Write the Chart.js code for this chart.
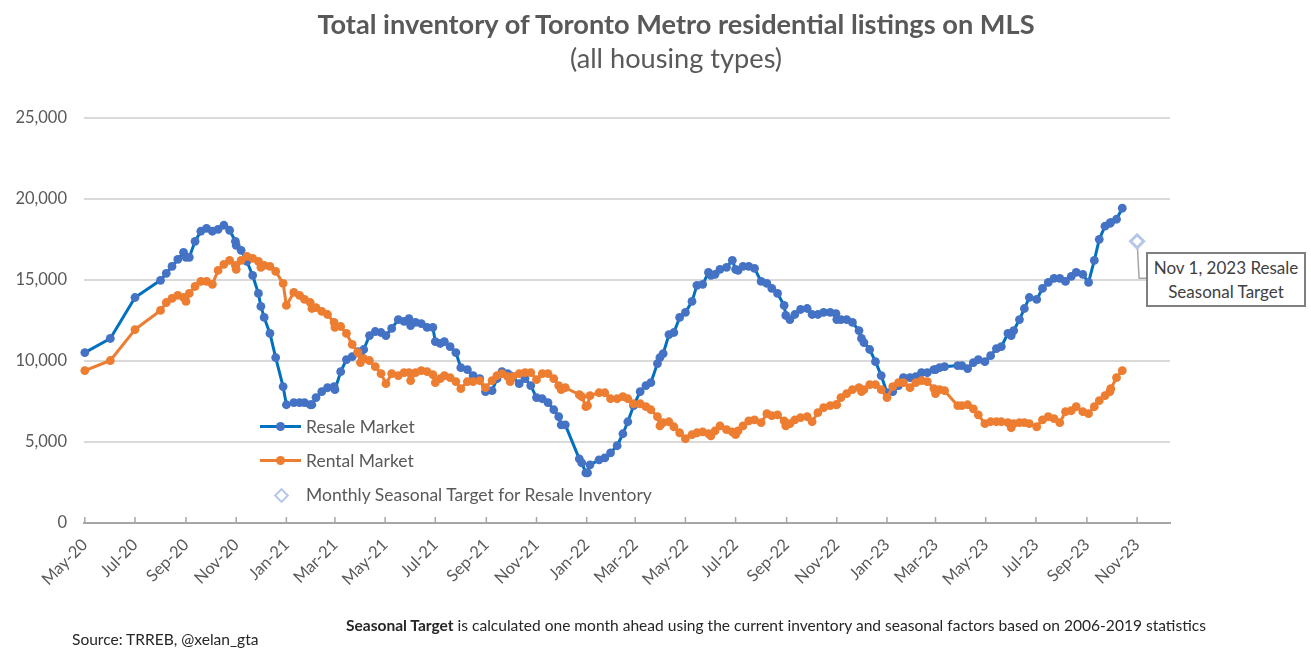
<!DOCTYPE html>
<html>
<head>
<meta charset="utf-8">
<title>Total inventory of Toronto Metro residential listings on MLS</title>
<script src="https://cdn.jsdelivr.net/npm/chart.js@4"></script>
<style>
  html, body { margin: 0; background: #fff; }
  body { font-family: Lato, sans-serif; color: #595959; }
  #wrap { position: relative; width: 1311px; height: 658px; overflow: hidden; }
  #wrap div { position: absolute; white-space: nowrap; }
  .title { left: 0; width: 1352px; text-align: center; }
  #t1 { top: 7px; font-size: 27.2px; font-weight: 700; }
  #t2 { top: 41px; font-size: 27.2px; }
  .leg { left: 306px; font-size: 17.5px; }
  .swatch { left: 260px; width: 41px; height: 3px; }
  .swatch i { position: absolute; left: 16px; top: -3px; width: 9px; height: 9px; border-radius: 50%; }
  #diamond { left: 276px; top: 490px; width: 7px; height: 7px; border: 2.5px solid #B4C7E7; background: #fff; transform: rotate(45deg); }
  #callout { left: 1146px; top: 252px; width: 156px; height: 49px; border: 2px solid #7F7F7F; background: #fff;
    font-size: 17px; line-height: 23.5px; text-align: center; color: #404040; padding-top: 2px; box-sizing: content-box; }
  .note { font-size: 15.55px; color: #262626; }
</style>
</head>
<body>
<div id="wrap">
  <canvas id="inventoryChart" width="1311" height="658"></canvas>
  <div class="title" id="t1">Total inventory of Toronto Metro residential listings on MLS</div>
  <div class="title" id="t2">(all housing types)</div>
  <div class="swatch" style="top:425px;background:#0070C0"><i style="background:#4472C4"></i></div>
  <div class="leg" style="top:416px">Resale Market</div>
  <div class="swatch" style="top:459px;background:#ED7D31"><i style="background:#ED7D31"></i></div>
  <div class="leg" style="top:450px">Rental Market</div>
  <div id="diamond"></div>
  <div class="leg" style="top:484px">Monthly Seasonal Target for Resale Inventory</div>
  <div id="callout">Nov 1, 2023 Resale<br>Seasonal Target</div>
  <div class="note" style="left:346px;top:616px"><b>Seasonal Target</b> is calculated one month ahead using the current inventory and seasonal factors based on 2006-2019 statistics</div>
  <div class="note" style="left:72px;top:630px">Source: TRREB, @xelan_gta</div>
</div>

<script>
// Days since May 1, 2020 for each MLS reading
const days = [
  0, 31, 61, 92, 99, 106, 113, 120, 123, 127, 134, 141, 148, 155, 162, 169, 176, 183, 184, 190,
  197, 204, 211, 214, 218, 225, 232, 241, 245, 254, 261, 267, 274, 276, 281, 288, 295, 303, 304, 311,
  318, 325, 332, 335, 339, 346, 353, 360, 366, 373, 381, 388, 394, 396, 402, 409, 416, 423, 426, 432,
  437, 444, 451, 457, 465, 472, 480, 487, 495, 501, 507, 514, 517, 520, 528, 535, 542, 549, 556, 563,
  570, 576, 579, 584, 601, 604, 609, 611, 614, 625, 632, 639, 647, 654, 660, 667, 675, 682, 688, 696,
  699, 703, 710, 716, 723, 730, 738, 744, 751, 758, 761, 766, 772, 780, 787, 791, 794, 800, 807, 814,
  822, 829, 835, 842, 850, 852, 857, 863, 870, 878, 884, 891, 898, 906, 913, 914, 919, 926, 933, 941,
  944, 947, 954, 961, 968, 975, 982, 989, 995, 1003, 1010, 1017, 1024, 1032, 1034, 1039, 1045, 1061, 1066, 1073,
  1080, 1086, 1094, 1101, 1108, 1114, 1122, 1126, 1129, 1136, 1142, 1148, 1157, 1164, 1171, 1178, 1185, 1192, 1199, 1205,
  1213, 1220, 1227, 1233, 1240, 1246, 1247, 1254, 1261
];

const resale = [
  10520, 11390, 13920, 14980, 15410, 15840, 16270, 16710, 16400, 16400, 17390, 18010, 18190, 18010, 18130, 18380, 18070, 17390, 17140, 16830,
  16150, 15280, 14170, 13370, 12690, 11700, 10210, 8420, 7300, 7430, 7430, 7430, 7300, 7300, 7740, 8110, 8350, 8420, 8230, 9340,
  10090, 10270, 10580, 10460, 10710, 11570, 11820, 11760, 11570, 12010, 12560, 12440, 12620, 12190, 12380, 12310, 12070, 12070, 11200, 11080,
  11200, 10890, 10520, 9590, 9470, 9100, 8910, 8110, 8170, 8910, 9340, 9220, 9100, 9030, 8600, 8910, 8480, 7740, 7670, 7430,
  6990, 6560, 6060, 6060, 3960, 3710, 3090, 3090, 3590, 3900, 4020, 4330, 4770, 5510, 6250, 7240, 8110, 8480, 8660, 9840,
  10210, 10460, 11630, 11760, 12690, 13000, 13680, 14670, 14730, 15470, 15280, 15350, 15660, 15780, 16210, 15660, 15590, 15840, 15840, 15720,
  14910, 14790, 14480, 14170, 13430, 12810, 12560, 12870, 13180, 13240, 12870, 12870, 13000, 13000, 12930, 12560, 12560, 12560, 12380, 11880,
  11390, 11140, 10710, 9960, 9100, 8040, 8110, 8480, 8970, 8970, 9030, 9280, 9280, 9470, 9470, 9590, 9650, 9720, 9720, 9530,
  9900, 10090, 9960, 10330, 10770, 10890, 11700, 11570, 11880, 12560, 13240, 13920, 13800, 14480, 14850, 15100, 15100, 14910, 15220, 15470,
  15350, 14850, 16210, 17510, 18320, 18500, 18560, 18750, 19430
];

const rental = [
  9410, 10030, 11940, 13120, 13610, 13860, 14050, 13920, 13680, 14170, 14600, 14910, 14910, 14730, 15590, 15970, 16210, 15900, 15660, 16210,
  16460, 16340, 16150, 15780, 15900, 15840, 15530, 14790, 13430, 14230, 14050, 13800, 13610, 13240, 13300, 13060, 12870, 12380, 12070, 12130,
  11700, 11020, 10520, 9900, 10150, 10030, 9650, 9220, 8600, 9220, 9100, 9280, 9280, 8790, 9280, 9410, 9340, 9160, 8660, 8910,
  9100, 8970, 8730, 8290, 8730, 8730, 8790, 8350, 8790, 9100, 9220, 9030, 8730, 9030, 9220, 9280, 9280, 8850, 9220, 9220,
  8910, 8480, 8230, 8350, 7920, 7800, 7180, 7240, 7860, 8040, 8040, 7670, 7670, 7800, 7670, 7360, 7360, 7180, 6990, 6560,
  6000, 6190, 6250, 5940, 5570, 5200, 5450, 5570, 5630, 5510, 5380, 5690, 6000, 5760, 5630, 5450, 5690, 6000, 6310, 6370,
  6190, 6750, 6620, 6680, 6310, 6000, 6130, 6370, 6500, 6560, 6250, 6810, 7120, 7240, 7300, 7300, 7740, 7980, 8230, 8350,
  8110, 8230, 8540, 8540, 8230, 7740, 8420, 8660, 8660, 8350, 8660, 8790, 8730, 8290, 7980, 8230, 8170, 7240, 7240, 7300,
  7050, 6680, 6130, 6250, 6250, 6250, 6190, 5880, 6130, 6190, 6190, 6130, 5940, 6370, 6560, 6440, 6190, 6870, 6930, 7180,
  6870, 6750, 7180, 7550, 7860, 8110, 8290, 8970, 9410
];

// Nov 1, 2023 target, the only point of that series
const targetDays = [1279];
const target = [17390];

// Date axis ticks, every second month
const tickDays = [0, 61, 123, 184, 245, 304, 365, 426, 488, 549, 610, 669, 730, 791, 853, 914, 975, 1034, 1095, 1156, 1218, 1279];
const tickLabels = [
  'May-20', 'Jul-20', 'Sep-20', 'Nov-20', 'Jan-21', 'Mar-21', 'May-21', 'Jul-21', 'Sep-21', 'Nov-21', 'Jan-22',
  'Mar-22', 'May-22', 'Jul-22', 'Sep-22', 'Nov-22', 'Jan-23', 'Mar-23', 'May-23', 'Jul-23', 'Sep-23', 'Nov-23'
];

const toPoints = (xs, ys) => xs.map((x, i) => ({ x: x, y: ys[i] }));

// Small upward tick marks on the date axis, and the leader from the target to its callout
const chartExtras = {
  id: 'chartExtras',
  beforeDatasetsDraw(chart) {
    const { ctx, scales: { x, y } } = chart;
    ctx.save();
    ctx.strokeStyle = '#A6A6A6';
    ctx.lineWidth = 1.5;
    ctx.beginPath();
    tickDays.forEach(d => {
      const px = x.getPixelForValue(d);
      ctx.moveTo(px, y.bottom);
      ctx.lineTo(px, y.bottom - 6);
    });
    ctx.stroke();

    const tx = x.getPixelForValue(targetDays[0]);
    const ty = y.getPixelForValue(target[0]);
    ctx.beginPath();
    ctx.moveTo(tx, ty);
    ctx.lineTo(tx + 2, ty + 37);
    ctx.lineTo(tx + 10, ty + 37);
    ctx.stroke();
    ctx.restore();
  }
};

new Chart(document.getElementById('inventoryChart'), {
  type: 'line',
  data: {
    datasets: [
      {
        label: 'Resale Market',
        data: toPoints(days, resale),
        borderColor: '#0070C0',
        backgroundColor: '#4472C4',
        borderWidth: 3,
        borderJoinStyle: 'round',
        pointRadius: 4.4,
        pointBorderWidth: 0,
        clip: false,
        order: 2
      },
      {
        label: 'Rental Market',
        data: toPoints(days, rental),
        borderColor: '#ED7D31',
        backgroundColor: '#ED7D31',
        borderWidth: 3,
        borderJoinStyle: 'round',
        pointRadius: 4.4,
        pointBorderWidth: 0,
        clip: false,
        order: 1
      },
      {
        label: 'Monthly Seasonal Target for Resale Inventory',
        data: toPoints(targetDays, target),
        showLine: false,
        pointStyle: 'rectRot',
        pointRadius: 6.5,
        pointBorderWidth: 3,
        borderColor: '#B4C7E7',
        backgroundColor: '#fff',
        order: 3
      }
    ]
  },
  options: {
    responsive: false,
    animation: false,
    layout: { padding: { top: 118, right: 141, left: 0, bottom: 0 } },
    plugins: {
      legend: { display: false },
      tooltip: { enabled: false }
    },
    scales: {
      x: {
        type: 'linear',
        min: -1,
        max: 1319,
        afterBuildTicks: scale => { scale.ticks = tickDays.map(d => ({ value: d })); },
        afterFit: scale => { scale.height = 135; },
        grid: { display: false },
        border: { color: '#A6A6A6', width: 2 },
        ticks: {
          autoSkip: false,
          maxRotation: 45,
          minRotation: 45,
          padding: 4,
          color: '#595959',
          font: { family: 'Lato', size: 16.5 },
          callback: (value, i) => tickLabels[i]
        }
      },
      y: {
        min: 0,
        max: 25000,
        afterFit: scale => { scale.width = 84; },
        grid: { color: '#D9D9D9', lineWidth: 2, drawTicks: false },
        border: { display: false },
        ticks: {
          stepSize: 5000,
          padding: 17,
          color: '#595959',
          font: { family: 'Lato', size: 16.5 },
          callback: value => value.toLocaleString('en-US')
        }
      }
    }
  },
  plugins: [chartExtras]
});
</script>
</body>
</html>
